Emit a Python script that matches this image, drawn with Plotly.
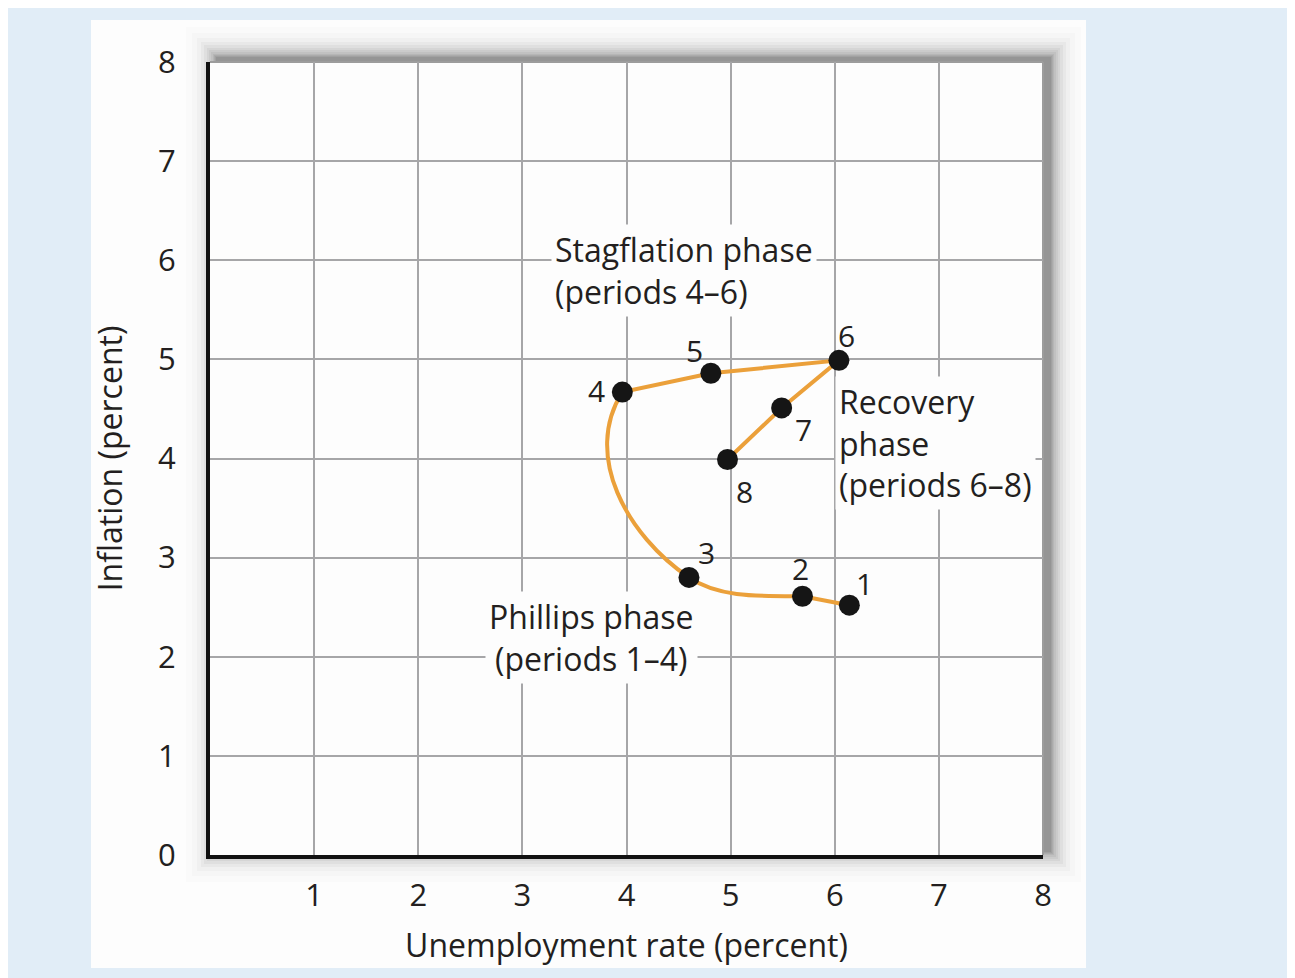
import plotly.graph_objects as go

# ---------------- data ----------------
periods = [1, 2, 3, 4, 5, 6, 7, 8]
unemployment = [6.14, 5.69, 4.60, 3.96, 4.81, 6.04, 5.49, 4.97]
inflation = [2.52, 2.61, 2.80, 4.67, 4.86, 4.99, 4.51, 3.99]
x_tickvals = [1, 2, 3, 4, 5, 6, 7, 8]
y_tickvals = [0, 1, 2, 3, 4, 5, 6, 7, 8]
phase_texts = ["Stagflation phase<br>(periods 4–6)",
               "Recovery<br>phase<br>(periods 6–8)",
               "Phillips phase<br>(periods 1–4)"]

# ---------------- style ----------------
FONT = "Open Sans"
TXT = "#231f20"
ORANGE = "#eba03a"
GRID = "#a6a6a8"
BG = "#e1edf7"

FIG_W, FIG_H = 1287, 970
ML, MR, MT, MB = 202, 252, 54, 123
PW, PH = FIG_W - ML - MR, FIG_H - MT - MB
XR, YR = (0, 8), (0, 8)
PX_X = PW / (XR[1] - XR[0])  # pixels per x unit
PX_Y = PH / (YR[1] - YR[0])  # pixels per y unit


def off(p, dxp, dyp):
    """point p shifted by a pixel offset (y up)"""
    return (p[0] + dxp / PX_X, p[1] + dyp / PX_Y)


pts = list(zip(unemployment, inflation))

# curve handles (pixel offsets) for the smooth part of the path
h23 = ((-45, 0), (29, -20))
h34 = ((-62, 42), (-40, -63))

c1 = off(pts[1], *h23[0]); c2 = off(pts[2], *h23[1])
c3 = off(pts[2], *h34[0]); c4 = off(pts[3], *h34[1])


def f(p):
    return f"{p[0]:.4f},{p[1]:.4f}"


path = (f"M {f(pts[0])} L {f(pts[1])} "
        f"C {f(c1)} {f(c2)} {f(pts[2])} "
        f"C {f(c3)} {f(c4)} {f(pts[3])} "
        + " ".join(f"L {f(p)}" for p in pts[4:]))

shapes = []
# white panel
shapes.append(dict(type="rect", xref="paper", yref="paper",
                   x0=(83 - ML) / PW, x1=(1078 - ML) / PW,
                   y0=(MT + PH - 960) / PH, y1=(MT + PH - 12) / PH,
                   fillcolor="#fdfdfd", line_width=0, layer="below"))
# soft drop shadow (offset to the upper right)
sdx, sdy = 7, 4
shadow_steps = [(1, 0.07), (2, 0.06), (3, 0.06), (4, 0.05), (6, 0.05), (8, 0.045),
                (10, 0.04), (13, 0.035), (16, 0.03), (20, 0.024), (25, 0.017), (31, 0.01)]
for e, a in shadow_steps:
    shapes.append(dict(type="rect", xref="paper", yref="paper",
                       x0=(sdx - e) / PW, x1=1 + (sdx + e) / PW,
                       y0=(sdy - e) / PH, y1=1 + (sdy + e) / PH,
                       fillcolor=f"rgba(0,0,0,{a})", line_width=0, layer="below"))
# plot background
shapes.append(dict(type="rect", xref="paper", yref="paper", x0=0, x1=1, y0=0, y1=1,
                   fillcolor="#fdfdfd", line_width=0, layer="below"))
# top and right borders
shapes.append(dict(type="line", xref="paper", yref="paper", x0=0, x1=1, y0=1, y1=1,
                   line=dict(color="#9c9c9c", width=2), layer="below"))
shapes.append(dict(type="line", xref="paper", yref="paper", x0=1, x1=1, y0=0, y1=1,
                   line=dict(color="#9c9c9c", width=2), layer="below"))
# path line
shapes.append(dict(type="path", xref="x", yref="y", path=path,
                   line=dict(color=ORANGE, width=4), layer="between"))

fig = go.Figure()
fig.add_trace(go.Scatter(
    x=unemployment, y=inflation, mode="markers",
    marker=dict(size=21, color="#151515"),
    cliponaxis=False, hoverinfo="skip", showlegend=False))

label_offsets = [(15, 22), (-2, 28), (18, 25), (-26, 2), (-16, 23), (8, 25), (22, -22), (17, -32)]
annotations = []
for p, xv, yv, (dx, dy) in zip(periods, unemployment, inflation, label_offsets):
    annotations.append(dict(x=xv, y=yv, xref="x", yref="y", text=str(p), showarrow=False,
                            xshift=dx, yshift=dy, font=dict(family=FONT, size=30, color=TXT)))

phase_pos = [(3.277, 5.897, "left", "left"), (6.0, 4.16, "left", "left"), (3.66, 2.195, "center", "center")]
for t, (xv, yv, xa, al) in zip(phase_texts, phase_pos):
    annotations.append(dict(x=xv, y=yv, xref="x", yref="y", text=t, showarrow=False,
                            xanchor=xa, yanchor="middle", align=al,
                            bgcolor="#fdfdfd", borderpad=3,
                            font=dict(family=FONT, size=32, color=TXT)))

axis_common = dict(showgrid=True, gridcolor=GRID, gridwidth=2, zeroline=False,
                   showline=True, linecolor="#111111", linewidth=4, ticks="",
                   tickfont=dict(family=FONT, size=31, color=TXT), fixedrange=True)

fig.update_layout(
    width=FIG_W, height=FIG_H,
    margin=dict(l=ML, r=MR, t=MT, b=MB, pad=0),
    paper_bgcolor=BG, plot_bgcolor="rgba(0,0,0,0)",
    xaxis=dict(range=list(XR), tickvals=x_tickvals, ticktext=[str(v) for v in x_tickvals],
               ticklabelstandoff=10,
               title=dict(text="Unemployment rate (percent)", standoff=21,
                          font=dict(family=FONT, size=32, color=TXT)),
               **axis_common),
    yaxis=dict(range=list(YR), tickvals=y_tickvals, ticktext=[str(v) for v in y_tickvals],
               ticklabelstandoff=24,
               title=dict(text="Inflation (percent)", standoff=27,
                          font=dict(family=FONT, size=32, color=TXT)),
               **axis_common),
    shapes=shapes, annotations=annotations,
    showlegend=False,
)

fig.write_html("out.html")
